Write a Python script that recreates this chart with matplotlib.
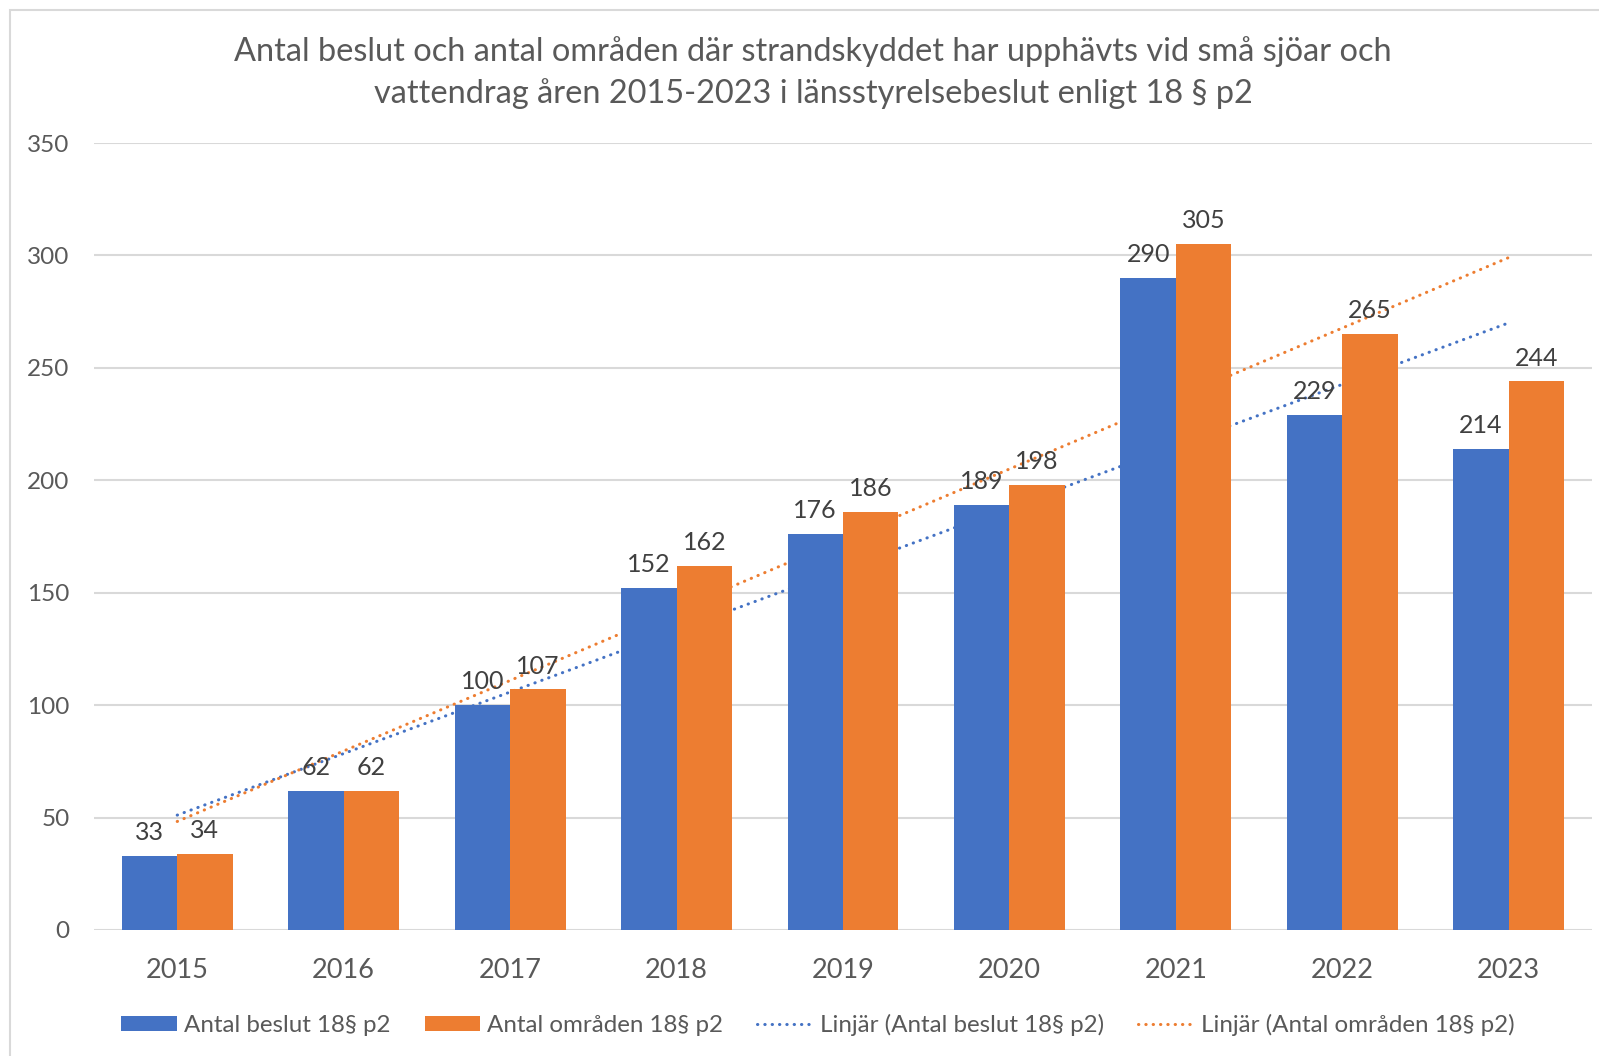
import numpy as np
import matplotlib
matplotlib.use("Agg")
import matplotlib.pyplot as plt
from matplotlib.patches import Rectangle, Patch
from matplotlib.lines import Line2D

years = ["2015", "2016", "2017", "2018", "2019", "2020", "2021", "2022", "2023"]
beslut = [33, 62, 100, 152, 176, 189, 290, 229, 214]
omraden = [34, 62, 107, 162, 186, 198, 305, 265, 244]
series_names = ["Antal beslut 18§ p2", "Antal områden 18§ p2"]
trend_names = ["Linjär (Antal beslut 18§ p2)", "Linjär (Antal områden 18§ p2)"]
title_lines = ["Antal beslut och antal områden där strandskyddet har upphävts vid små sjöar och",
               "vattendrag åren 2015-2023 i länsstyrelsebeslut enligt 18 § p2"]
yticks = [0, 50, 100, 150, 200, 250, 300, 350]

BLUE = "#4472C4"
ORANGE = "#ED7D31"
GRID = "#D9D9D9"
TXT = "#595959"
LBL = "#404040"

plt.rcParams['font.family'] = ['Lato', 'DejaVu Sans']

W, H = 1599, 1056
fig = plt.figure(figsize=(W / 100, H / 100), dpi=100)

# chart frame
fig.patches.append(Rectangle((10 / W, -0.1), 1.2, 1 - 10 / H + 0.1, transform=fig.transFigure,
                             fill=False, edgecolor=GRID, linewidth=1.5, zorder=0))

ax = fig.add_axes([94 / W, 1 - 930 / H, 1498 / W, (930 - 143) / H])
x = np.arange(len(years))
w = 1 / 3
b1 = ax.bar(x - w / 2, beslut, width=w, color=BLUE, zorder=3)
b2 = ax.bar(x + w / 2, omraden, width=w, color=ORANGE, zorder=3)

for bars, vals in ((b1, beslut), (b2, omraden)):
    for rect, v in zip(bars, vals):
        ax.annotate(str(v), (rect.get_x() + rect.get_width() / 2, v), xytext=(0, 8.5),
                    textcoords="offset points", ha="center", va="bottom",
                    fontsize=18, color=LBL, zorder=5)

dot = (0, (0.1, 2.3))
for vals, col in ((beslut, BLUE), (omraden, ORANGE)):
    k, m = np.polyfit(x, vals, 1)
    ax.plot(x, k * x + m, color=col, linewidth=2.2, linestyle=dot,
            dash_capstyle="round", zorder=2)

ax.set_xlim(-0.5, len(years) - 0.5)
ax.set_ylim(0, 350)
ax.set_yticks(yticks)
ax.set_xticks(x)
ax.set_xticklabels(years)
ax.grid(axis="y", color=GRID, linewidth=1.5, zorder=0)
ax.set_axisbelow(True)
for s in ax.spines.values():
    s.set_visible(False)
ax.tick_params(axis="both", length=0)
ax.tick_params(axis="y", labelsize=17.5, labelcolor=TXT, pad=17.5)
ax.tick_params(axis="x", labelsize=19.5, labelcolor=TXT, pad=20)

fig.text(813 / W, 1 - 52 / H, title_lines[0], ha="center", va="center", fontsize=23.4, color=TXT)
fig.text(813 / W, 1 - 94 / H, title_lines[1], ha="center", va="center", fontsize=23.4, color=TXT)

handles = [Patch(facecolor=BLUE), Patch(facecolor=ORANGE),
           Line2D([0], [0], color=BLUE, linewidth=2.2, linestyle=dot, dash_capstyle="round"),
           Line2D([0], [0], color=ORANGE, linewidth=2.2, linestyle=dot, dash_capstyle="round")]
leg = fig.legend(handles, series_names + trend_names, loc="center", ncol=4,
                 bbox_to_anchor=(818 / W, 1 - 1025 / H), frameon=False, fontsize=17.4,
                 handlelength=2.3, handleheight=0.6, handletextpad=0.3, columnspacing=1.4,
                 labelcolor=TXT)

fig.savefig("out.png", dpi=100)
